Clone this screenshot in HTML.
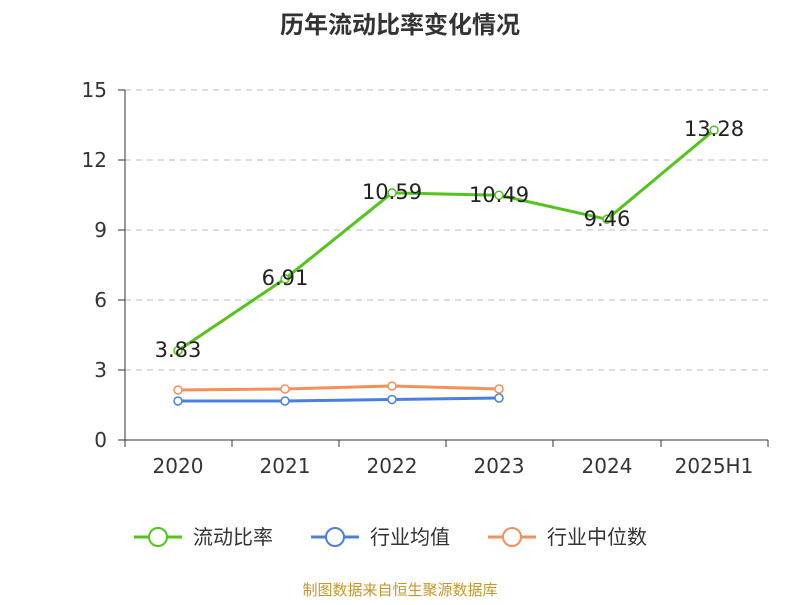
<!DOCTYPE html>
<html><head><meta charset="utf-8"><style>body{margin:0;background:#fff}</style></head><body>
<svg width="800" height="600" xmlns="http://www.w3.org/2000/svg" font-family="DejaVu Sans, Noto Sans CJK SC, sans-serif">
<text x="400" y="33" text-anchor="middle" font-size="24" font-weight="bold" fill="#333" font-family="Noto Sans CJK SC, sans-serif">历年流动比率变化情况</text>
<g stroke="#bbb" stroke-dasharray="6,5" stroke-width="1">
<line x1="125" x2="768" y1="90" y2="90"/><line x1="125" x2="768" y1="160" y2="160"/><line x1="125" x2="768" y1="230" y2="230"/><line x1="125" x2="768" y1="300" y2="300"/><line x1="125" x2="768" y1="370" y2="370"/>
</g>
<g stroke="#333" stroke-width="1">
<line x1="125" y1="90" x2="125" y2="440"/><line x1="125" y1="440" x2="768" y2="440"/>
<line x1="118" x2="125" y1="90" y2="90"/><line x1="118" x2="125" y1="160" y2="160"/><line x1="118" x2="125" y1="230" y2="230"/><line x1="118" x2="125" y1="300" y2="300"/><line x1="118" x2="125" y1="370" y2="370"/><line x1="118" x2="125" y1="440" y2="440"/>
<line x1="125" x2="125" y1="440" y2="447"/><line x1="232" x2="232" y1="440" y2="447"/><line x1="339" x2="339" y1="440" y2="447"/><line x1="446" x2="446" y1="440" y2="447"/><line x1="553" x2="553" y1="440" y2="447"/><line x1="661" x2="661" y1="440" y2="447"/><line x1="768" x2="768" y1="440" y2="447"/>
</g>
<g font-size="20" fill="#333" text-anchor="end">
<text x="107" y="97">15</text><text x="107" y="167">12</text><text x="107" y="237">9</text><text x="107" y="307">6</text><text x="107" y="377">3</text><text x="107" y="447">0</text>
</g>
<g font-size="20" fill="#333" text-anchor="middle">
<text x="178" y="473">2020</text><text x="285" y="473">2021</text><text x="392" y="473">2022</text><text x="499" y="473">2023</text><text x="607" y="473">2024</text><text x="714" y="473">2025H1</text>
</g>
<polyline fill="none" stroke="#52c41a" stroke-width="3" points="178,350.6 285,278.8 392,192.9 499,195.2 607,219.3 714,130.1"/>
<polyline fill="none" stroke="#4a7fe0" stroke-width="3" points="178,401 285,401 392,399.5 499,398"/>
<polyline fill="none" stroke="#f4905a" stroke-width="3" points="178,390 285,389 392,386 499,389"/>
<g fill="#fff" stroke-width="1.5">
<g stroke="#52c41a"><circle cx="178" cy="350.6" r="4"/><circle cx="285" cy="278.8" r="4"/><circle cx="392" cy="192.9" r="4"/><circle cx="499" cy="195.2" r="4"/><circle cx="607" cy="219.3" r="4"/><circle cx="714" cy="130.1" r="4"/></g>
<g stroke="#4a7fe0"><circle cx="178" cy="401" r="4"/><circle cx="285" cy="401" r="4"/><circle cx="392" cy="399.5" r="4"/><circle cx="499" cy="398" r="4"/></g>
<g stroke="#f4905a"><circle cx="178" cy="390" r="4"/><circle cx="285" cy="389" r="4"/><circle cx="392" cy="386" r="4"/><circle cx="499" cy="389" r="4"/></g>
</g>
<g font-size="21" fill="#222" text-anchor="middle">
<text x="178" y="357">3.83</text><text x="285" y="285">6.91</text><text x="392" y="199">10.59</text><text x="499" y="202">10.49</text><text x="607" y="226">9.46</text><text x="714" y="136">13.28</text>
</g>
<g font-size="20" fill="#333" font-family="Noto Sans CJK SC, sans-serif">
<line x1="134" x2="182" y1="537" y2="537" stroke="#52c41a" stroke-width="3"/><circle cx="158" cy="537" r="9" fill="#fff" stroke="#52c41a" stroke-width="2"/><text x="193" y="544">流动比率</text>
<line x1="311" x2="359" y1="537" y2="537" stroke="#4a7fe0" stroke-width="3"/><circle cx="335" cy="537" r="9" fill="#fff" stroke="#4a7fe0" stroke-width="2"/><text x="370" y="544">行业均值</text>
<line x1="488" x2="536" y1="537" y2="537" stroke="#f4905a" stroke-width="3"/><circle cx="512" cy="537" r="9" fill="#fff" stroke="#f4905a" stroke-width="2"/><text x="547" y="544">行业中位数</text>
</g>
<text x="400" y="595" text-anchor="middle" font-size="15" fill="#c8952a" font-family="Noto Sans CJK SC, sans-serif">制图数据来自恒生聚源数据库</text>
</svg>
</body></html>
